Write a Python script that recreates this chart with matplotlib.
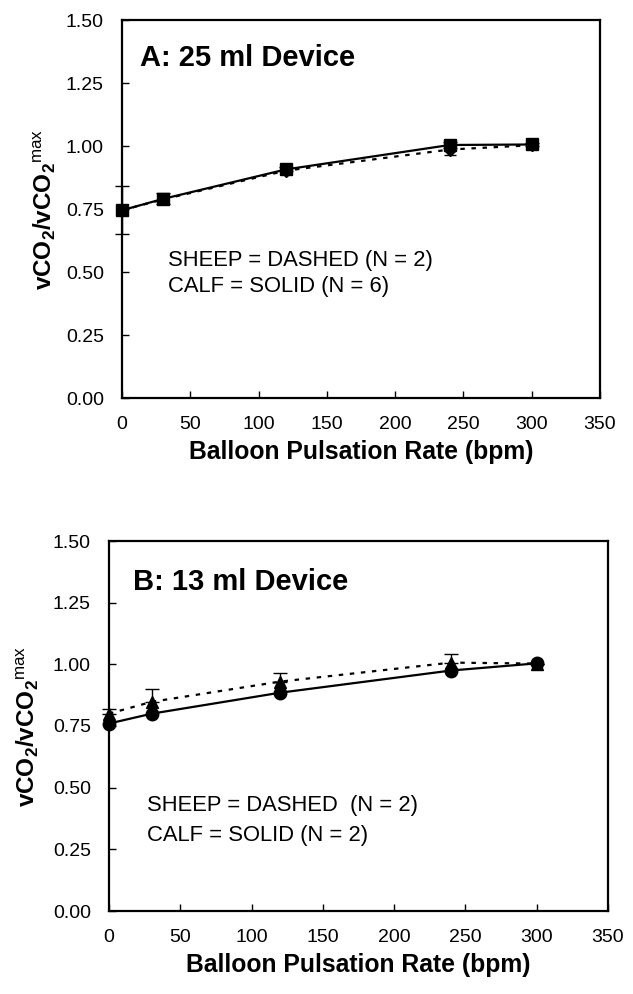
import numpy as np
import matplotlib
matplotlib.use('Agg')
import matplotlib.pyplot as plt

plt.rcParams['font.family'] = ['Liberation Sans', 'DejaVu Sans']
plt.rcParams['mathtext.fontset'] = 'custom'
plt.rcParams['mathtext.rm'] = 'Liberation Sans'
plt.rcParams['mathtext.bf'] = 'Liberation Sans:bold'

# Balloon pulsation rates (bpm)
rate = [0, 30, 120, 240, 300]

# Panel A: 25 ml device
calf_a = [0.745, 0.79, 0.907, 1.004, 1.006]
calf_a_err = [0.095, 0.022, 0.008, 0.012, 0.006]
sheep_a = [0.745, 0.788, 0.902, 0.986, 1.003]
sheep_a_err_low = [0.0, 0.0, 0.0, 0.02, 0.0]

# Panel B: 13 ml device
calf_b = [0.76, 0.80, 0.885, 0.975, 1.004]
sheep_b = [0.80, 0.848, 0.93, 1.007, 1.003]
sheep_b_err_up = [0.02, 0.05, 0.035, 0.035, 0.0]

x_ticks = [0, 50, 100, 150, 200, 250, 300, 350]
y_ticks = [0.0, 0.25, 0.5, 0.75, 1.0, 1.25, 1.5]

fig = plt.figure(figsize=(6.33, 9.94), dpi=100)
ax_a = fig.add_axes([122 / 633, 1 - 398 / 994, 478 / 633, 378 / 994])
ax_b = fig.add_axes([109 / 633, 1 - 911 / 994, 499 / 633, 370 / 994])


def style_axis(ax):
    ax.set_xlim(0, 350)
    ax.set_ylim(0, 1.5)
    ax.set_xticks(x_ticks)
    ax.set_yticks(y_ticks)
    ax.set_yticklabels(['%.2f' % v for v in y_ticks])
    ax.tick_params(axis='both', direction='in', length=5, width=1,
                   labelsize=14, colors='black')
    ax.tick_params(axis='x', pad=13)
    ax.tick_params(axis='y', pad=13)
    for s in ax.spines.values():
        s.set_linewidth(1.6)
    ax.set_xlabel('Balloon Pulsation Rate (bpm)', fontsize=17.8,
                  fontweight='bold', labelpad=5)


ylab = r'$\mathbf{vCO_2/vCO_2}^{\mathrm{max}}$'

# Panel A
ax_a.errorbar(rate, sheep_a, yerr=[sheep_a_err_low, [0] * 5], color='black',
              linestyle=(0, (2, 3)), linewidth=1.6, marker='D', markersize=6,
              capsize=4, elinewidth=1, clip_on=False, zorder=3)
ax_a.errorbar(rate, calf_a, yerr=calf_a_err, color='black', linestyle='-',
              linewidth=1.6, marker='s', markersize=9, capsize=5,
              elinewidth=1, clip_on=False, zorder=4)
style_axis(ax_a)
ax_a.text(0.038, 0.9, 'A: 25 ml Device', transform=ax_a.transAxes,
          fontsize=21, fontweight='bold', va='center', ha='left')
ax_a.text(0.096, 0.365, 'SHEEP = DASHED (N = 2)', transform=ax_a.transAxes,
          fontsize=15.8, va='center', ha='left')
ax_a.text(0.096, 0.294, 'CALF = SOLID (N = 6)', transform=ax_a.transAxes,
          fontsize=15.8, va='center', ha='left')
fig.text(45 / 633, 1 - 209 / 994, ylab, rotation=90, fontsize=17.5,
         ha='center', va='center')

# Panel B
ax_b.errorbar(rate, sheep_b, yerr=[[0] * 5, sheep_b_err_up], color='black',
              linestyle=(0, (2, 3)), linewidth=1.6, marker='^', markersize=9,
              capsize=5, elinewidth=1, clip_on=False, zorder=3)
ax_b.plot(rate, calf_b, color='black', linestyle='-', linewidth=1.6,
          marker='o', markersize=9, clip_on=False, zorder=4)
style_axis(ax_b)
ax_b.text(0.048, 0.889, 'B: 13 ml Device', transform=ax_b.transAxes,
          fontsize=21, fontweight='bold', va='center', ha='left')
ax_b.text(0.076, 0.286, 'SHEEP = DASHED  (N = 2)', transform=ax_b.transAxes,
          fontsize=15.8, va='center', ha='left')
ax_b.text(0.076, 0.203, 'CALF = SOLID (N = 2)', transform=ax_b.transAxes,
          fontsize=15.8, va='center', ha='left')
fig.text(28 / 633, 1 - 726 / 994, ylab, rotation=90, fontsize=17.5,
         ha='center', va='center')

fig.savefig('out.png', dpi=100)
